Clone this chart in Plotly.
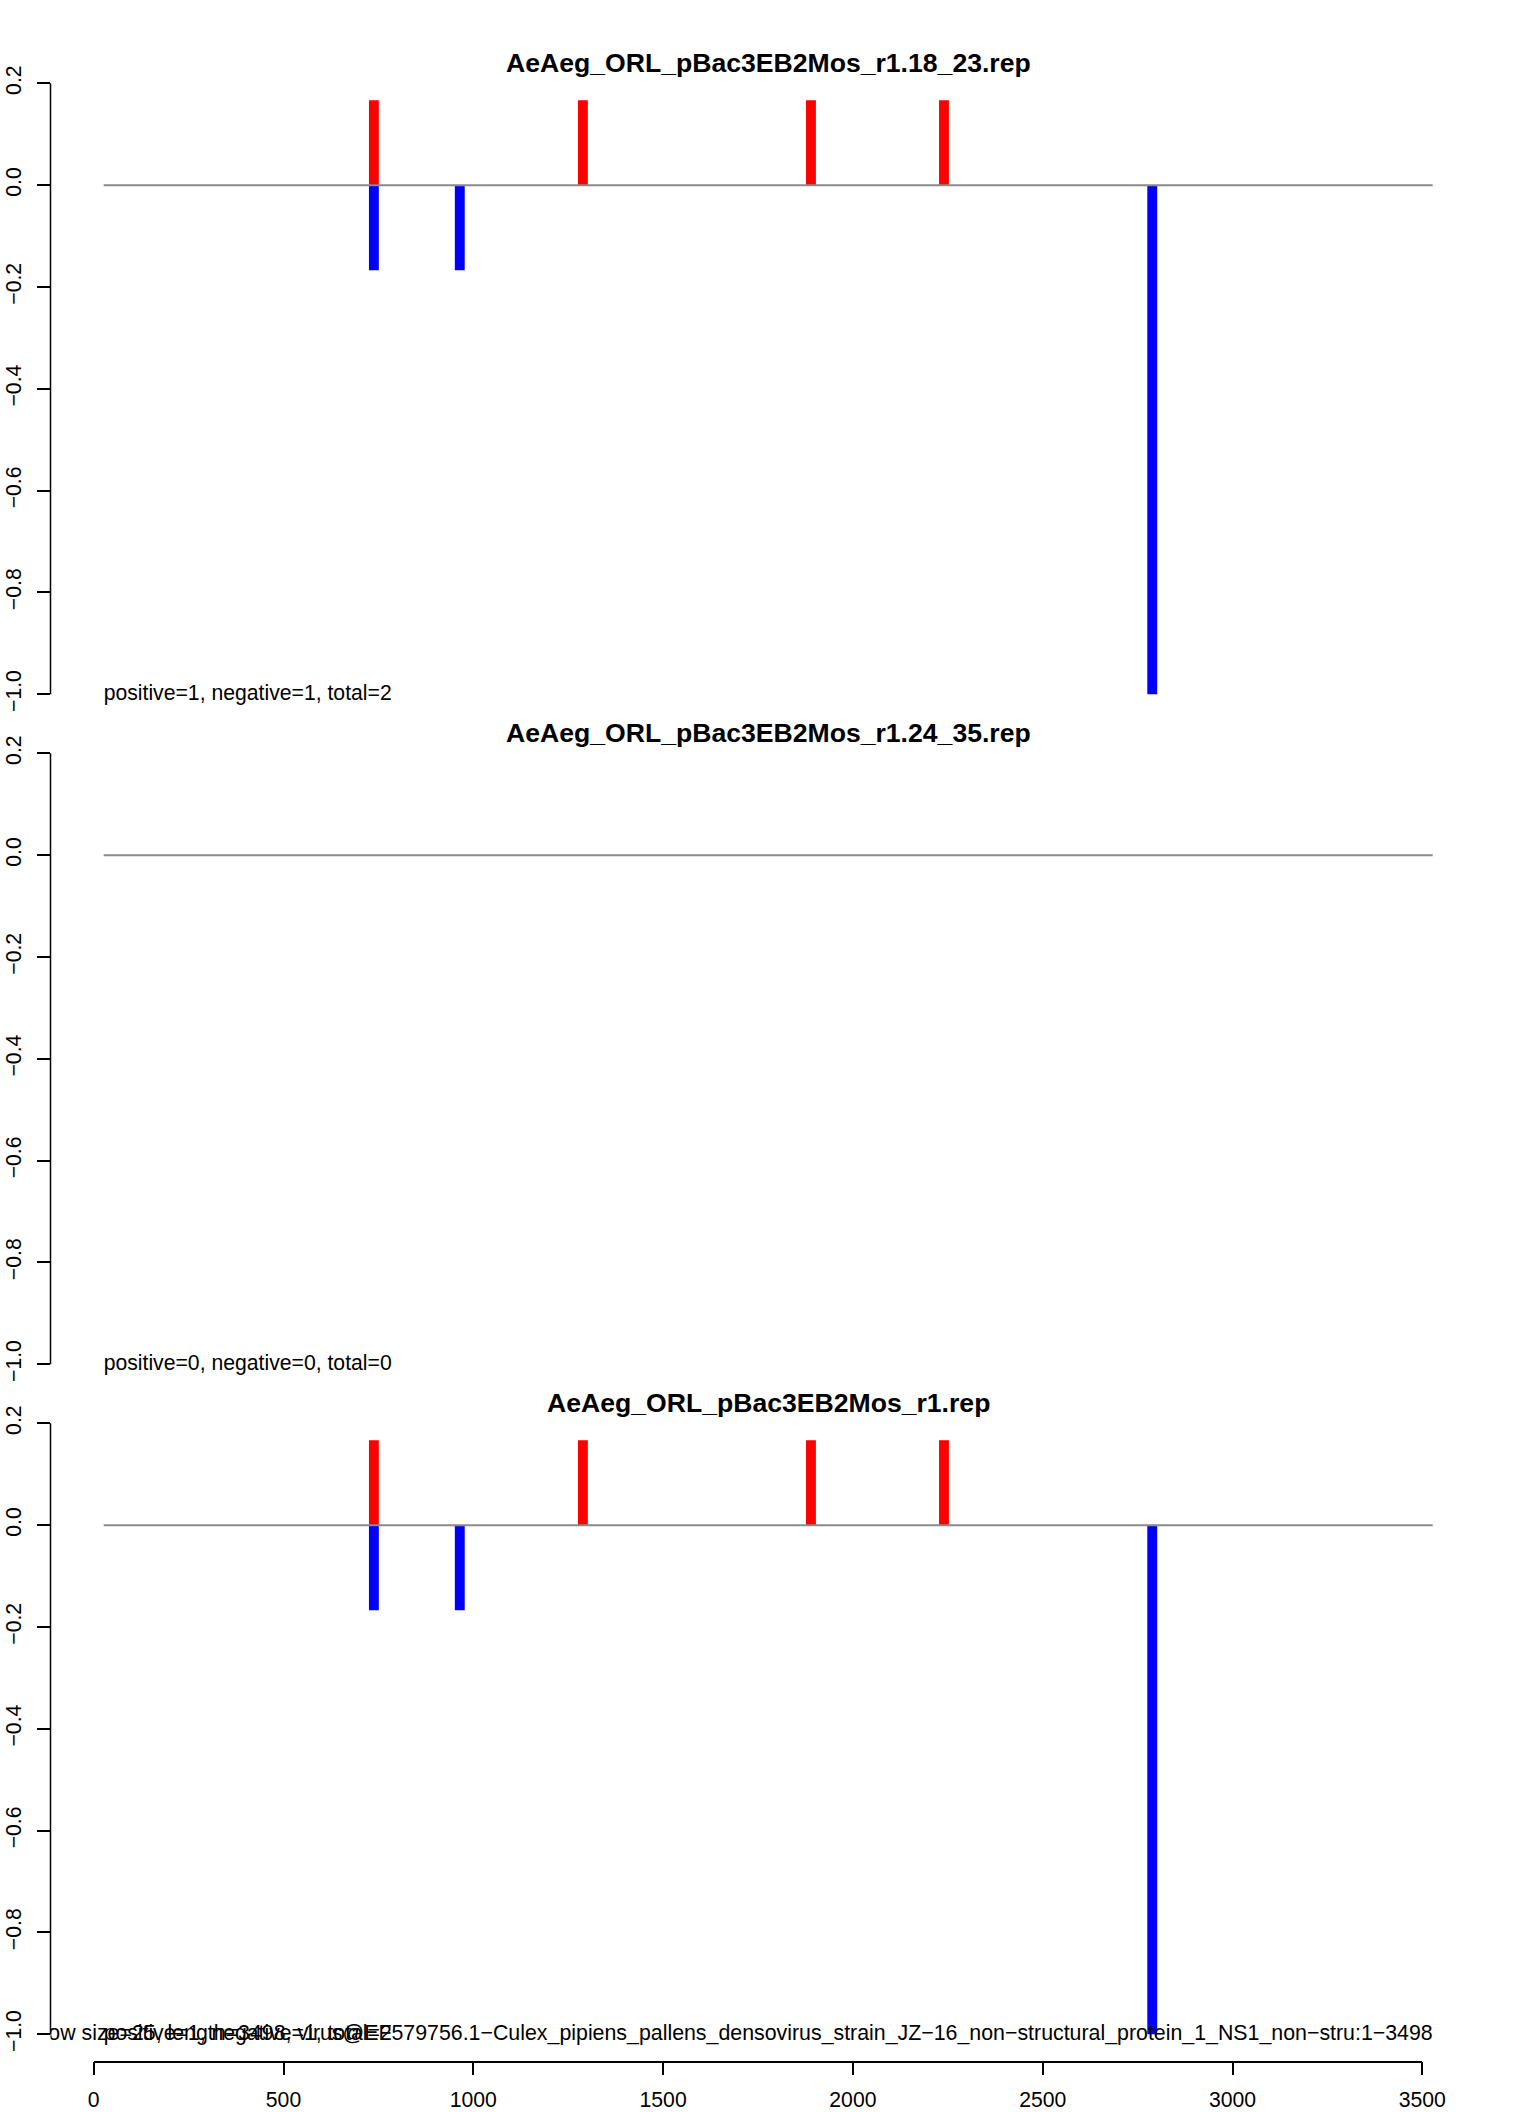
import plotly.graph_objects as go

# ---------------- data ----------------
panel_titles = [
    "AeAeg_ORL_pBac3EB2Mos_r1.18_23.rep",
    "AeAeg_ORL_pBac3EB2Mos_r1.24_35.rep",
    "AeAeg_ORL_pBac3EB2Mos_r1.rep",
]
panel_counts = [
    "positive=1, negative=1, total=2",
    "positive=0, negative=0, total=0",
    "positive=1, negative=1, total=2",
]
# positive (red) and negative (blue) signal positions / normalized heights
pos_x = [[712, 1262, 1862, 2212], [], [712, 1262, 1862, 2212]]
pos_y = [[0.167, 0.167, 0.167, 0.167], [], [0.167, 0.167, 0.167, 0.167]]
neg_x = [[712, 938, 2760], [], [712, 938, 2760]]
neg_y = [[-0.167, -0.167, -1.0], [], [-0.167, -0.167, -1.0]]

seq_start = 1
seq_length = 3498
footer_text = ("window size=25, length=3498, virus@EF579756.1\u2212Culex_pipiens_pallens_densovirus_strain_JZ\u221216"
               "_non\u2212structural_protein_1_NS1_non\u2212stru:1\u22123498")

y_ticks = [-1.0, -0.8, -0.6, -0.4, -0.2, 0.0, 0.2]
x_ticks = [0, 500, 1000, 1500, 2000, 2500, 3000, 3500]

# ---------------- layout geometry ----------------
W, H = 1533, 2112
FONT = "Liberation Sans, Arial, Helvetica, sans-serif"
bar_width = 26
TXT = 21.2

x_left_px, x_right_px = 50.5, 1485.9
x_range = [-138.9, 3637.9]
panel_step = 670
top0, bot0 = 58.9, 718.7
y_range = [-1.048, 0.248]

fig = go.Figure()
layout = dict(
    template="none",
    width=W, height=H,
    autosize=False,
    margin=dict(l=0, r=0, t=0, b=0, pad=0),
    paper_bgcolor="white",
    plot_bgcolor="rgba(0,0,0,0)",
    showlegend=False,
    barmode="overlay",
    font=dict(family=FONT, size=TXT, color="black"),
)
shapes = []
annotations = []

for p in range(3):
    xa = "x" if p == 0 else f"x{p+1}"
    ya = "y" if p == 0 else f"y{p+1}"
    top = top0 + panel_step * p
    bot = bot0 + panel_step * p
    layout[f"xaxis{'' if p == 0 else p+1}"] = dict(
        domain=[x_left_px / W, x_right_px / W], range=x_range,
        visible=False, anchor=ya, fixedrange=True, automargin=False,
    )
    layout[f"yaxis{'' if p == 0 else p+1}"] = dict(
        domain=[1 - bot / H, 1 - top / H], range=y_range, anchor=xa,
        showgrid=False, zeroline=False, showline=False, automargin=False,
        tickmode="array", tickvals=y_ticks, tickformat=".1f",
        ticks="outside", ticklen=13, tickwidth=1.5, tickcolor="black",
        tickangle=-90, tickfont=dict(size=TXT, family=FONT, color="black"),
        ticklabelstandoff=7, fixedrange=True,
    )
    # zero reference line over the sequence extent
    fig.add_trace(go.Scatter(
        x=[seq_start, seq_length], y=[0, 0], mode="lines",
        line=dict(color="#8a8a8a", width=2), xaxis=xa, yaxis=ya,
        hoverinfo="skip",
    ))
    if pos_x[p]:
        fig.add_trace(go.Bar(
            x=pos_x[p], y=pos_y[p], width=bar_width, marker_color="#ff0000",
            marker_line_width=0, xaxis=xa, yaxis=ya,
        ))
    if neg_x[p]:
        fig.add_trace(go.Bar(
            x=neg_x[p], y=neg_y[p], width=bar_width, marker_color="#0000ff",
            marker_line_width=0, xaxis=xa, yaxis=ya,
        ))
    if p == 2:
        fig.add_trace(go.Scatter(
            x=[seq_length], y=[-1.0], mode="text", text=[footer_text],
            textposition="middle left", cliponaxis=True,
            textfont=dict(size=21.35, family=FONT, color="black"),
            xaxis=xa, yaxis=ya, hoverinfo="skip",
        ))
    fig.add_trace(go.Scatter(
        x=[seq_start], y=[-1.0], mode="text", text=[panel_counts[p]],
        textposition="middle right", cliponaxis=True,
        textfont=dict(size=TXT, family=FONT, color="black"),
        xaxis=xa, yaxis=ya, hoverinfo="skip",
    ))
    # y-axis line spanning first to last tick (R style)
    shapes.append(dict(
        type="line", xref="paper", yref=ya,
        x0=x_left_px / W, x1=x_left_px / W, y0=y_ticks[0], y1=y_ticks[-1],
        line=dict(color="black", width=1.5),
    ))
    annotations.append(dict(
        text=f"<b>{panel_titles[p]}</b>", xref="paper", yref="paper",
        x=768 / W, y=1 - (63 + panel_step * p) / H,
        xanchor="center", yanchor="middle", showarrow=False,
        font=dict(size=26.6, family=FONT, color="black"),
    ))

# bottom x-axis (separate scale, as drawn in the original)
layout["xaxis4"] = dict(
    domain=[93.7 / W, 1422.3 / W], range=[0, 3500],
    anchor="free", position=1 - 2061.7 / H,
    showgrid=False, zeroline=False, automargin=False,
    showline=True, linecolor="black", linewidth=1.5,
    tickmode="array", tickvals=x_ticks,
    ticks="outside", ticklen=13, tickwidth=1.5, tickcolor="black",
    tickfont=dict(size=TXT, family=FONT, color="black"), ticklabelstandoff=6,
    fixedrange=True,
)
fig.add_trace(go.Scatter(x=[None], y=[None], xaxis="x4", yaxis="y3",
                         mode="markers", hoverinfo="skip"))

layout["shapes"] = shapes
layout["annotations"] = annotations
fig.update_layout(**layout)
fig.write_html("out.html", config={"displayModeBar": False},
               post_script="document.body.style.margin='0px';")
